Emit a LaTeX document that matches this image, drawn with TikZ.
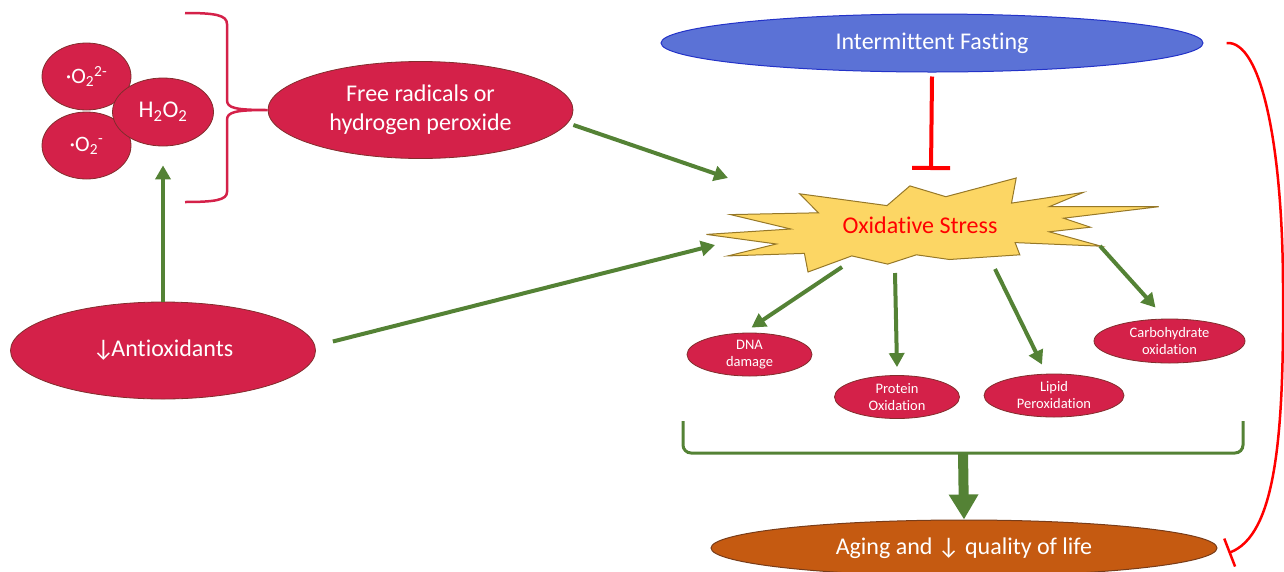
\documentclass[tikz,border=0pt]{standalone}
\usepackage{fontspec}
\setmainfont{Carlito}[Ligatures=NoCommon]
\usetikzlibrary{arrows.meta,shapes.geometric}
\definecolor{crimson}{RGB}{212,33,73}
\definecolor{crimsonline}{RGB}{130,45,45}
\definecolor{fastblue}{RGB}{91,114,214}
\definecolor{fastline}{RGB}{35,50,200}
\definecolor{stargold}{RGB}{252,214,100}
\definecolor{starline}{RGB}{150,120,40}
\definecolor{agingorange}{RGB}{197,90,17}
\definecolor{agingline}{RGB}{120,60,25}
\definecolor{leafgreen}{RGB}{84,130,53}
\definecolor{inhred}{RGB}{255,0,0}
\tikzset{
  redell/.style={ellipse, draw=crimsonline, line width=0.8pt, fill=crimson, text=white,
    inner sep=0pt, align=center, font=\fontsize{24}{29}\selectfont},
  smallell/.style={redell, font=\fontsize{14.5}{17}\selectfont},
  rosell/.style={redell, minimum width=89pt, minimum height=67pt, font=\fontsize{22}{26}\selectfont},
  garrow/.style={draw=leafgreen, line width=4pt, -{Triangle[length=14pt,width=15pt]}},
  inhib/.style={draw=inhred, line width=4pt, -{Bar[width=38pt]}},
  lab/.style={font=\fontsize{24}{29}\selectfont}
}

\begin{document}
\begin{tikzpicture}[x=1pt,y=-1pt]
\useasboundingbox (0,0) rectangle (1284,571);

% Reactive oxygen species
\node[rosell] (otwoa) at (86.5,76.5) {·O\textsubscript{2}\textsuperscript{2-}};
\node[rosell] (otwob) at (86.5,145.5) {·O\textsubscript{2}\textsuperscript{-}};
\node[redell, minimum width=101pt, minimum height=68pt] (hperox) at (163,112) {H\textsubscript{2}O\textsubscript{2}};
\node[redell, minimum width=305pt, minimum height=97pt] (free) at (420.5,110) {Free radicals or\\hydrogen peroxide};
\draw[crimson, line width=2.5pt] (185,13) .. controls (215,13) and (227,15) .. (227,24) -- (227,100)
  .. controls (227,108) and (235,110) .. (free.west)
  .. controls (235,110) and (227,112) .. (227,120) -- (227,192)
  .. controls (227,200) and (215,202) .. (185,202);

% Antioxidants
\node[redell, minimum width=305pt, minimum height=97pt] (anti) at (163,350.5) {↓\kern-3pt Antioxidants};
\draw[garrow] (anti.north) -- ([yshift=-19pt]hperox.south);

% Intermittent fasting
\node[ellipse, draw=fastline, line width=1pt, fill=fastblue, text=white, inner sep=0pt,
  minimum width=542pt, minimum height=58pt, lab] (fast) at (932,43) {Intermittent Fasting};

% Oxidative stress
\draw[fill=stargold, draw=starline, line width=1pt]
  (799.7,193.8) -- (887,205.6) -- (909.9,185.9) -- (945.8,196.7) -- (1016.2,178)
  -- (1011.5,203.1) -- (1083.3,192.4) -- (1049.2,206.7) -- (1158.7,206.7) -- (1063.5,218.2)
  -- (1090.5,227.2) -- (1049.2,231.8) -- (1101.2,246.2) -- (1015.1,242.6) -- (1019.8,254.8)
  -- (949.4,259.5) -- (916.4,254.8) -- (887.7,264.1) -- (851.8,255.9) -- (808,272)
  -- (804.4,253.4) -- (727.9,255.9) -- (776.4,244) -- (706.4,234.4) -- (790.8,229)
  -- (730.5,214.6) -- (818.4,212.8) -- cycle;
\node[lab, text=inhred] (ostress) at (920,225) {Oxidative Stress};
\coordinate (osfree) at (728,178);
\coordinate (osanti) at (715,245);
\coordinate (osdna) at (842,267);
\coordinate (osprot) at (895,273);
\coordinate (oslip) at (995,269);
\coordinate (oscarb) at (1100,246);
\coordinate (osinhib) at (931,170);

\draw[inhib] ([yshift=-4pt]fast.south) -- (osinhib);
\draw[garrow] ([yshift=-15pt]free.east) -- (osfree);
\draw[garrow] ([xshift=17pt,yshift=9pt]anti.east) -- (osanti);

% Damage
\node[smallell, minimum width=125pt, minimum height=43pt] (dna) at (749.5,354.5) {DNA\\damage};
\node[smallell, minimum width=125pt, minimum height=43pt] (prot) at (897,397) {Protein\\Oxidation};
\node[smallell, minimum width=140pt, minimum height=43pt] (lipid) at (1054,395.5) {Lipid\\Peroxidation};
\node[smallell, minimum width=151pt, minimum height=44pt] (carb) at (1169.5,341) {Carbohydrate\\oxidation};
\draw[garrow] (osdna) -- ([xshift=2pt,yshift=5pt]dna.north);
\draw[garrow] (osprot) -- ([yshift=8pt]prot.north);
\draw[garrow] (oslip) -- ([xshift=-12pt,yshift=9pt]lipid.north);
\draw[garrow] (oscarb) -- ([xshift=-14pt,yshift=11pt]carb.north);

% Aging
\node[ellipse, draw=agingline, line width=1pt, fill=agingorange, text=white, inner sep=0pt,
  minimum width=506pt, minimum height=56pt, lab] (aging) at (964,548) {Aging and ↓ quality of life};
\draw[leafgreen, line width=3pt, rounded corners=8pt] (683,421) -- (683,453) -- (1243,453) -- (1243,421);
\coordinate (brkmid) at (963,453);
\draw[draw=leafgreen, line width=10pt, -{Triangle[length=25pt,width=28pt]}] (brkmid) -- (aging.north);

\draw[inhred, line width=2.5pt, -{Bar[width=30pt]}] ([xshift=23pt]fast.east)
  .. controls (1262,40) and (1283,150) .. (1283,290)
  .. controls (1284,440) and (1275,535) .. ([shift={(11pt,-5pt)}]aging.east);
\end{tikzpicture}
\end{document}
